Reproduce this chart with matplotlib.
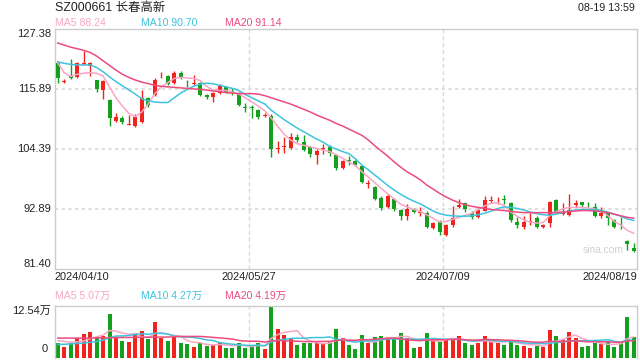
import matplotlib
matplotlib.use("Agg")
import matplotlib.pyplot as plt
import matplotlib.transforms as mtransforms
import numpy as np

plt.rcParams['font.family'] = ['Liberation Sans', 'Noto Sans CJK SC']

# daily OHLC, 2024/04/10 .. 2024/08/19
opens = [120.8, 117.2, 118.4, 118.1, 120.6, 120.2, 117.6, 115.7, 113.8, 109.8,
         110.3, 109.0, 108.8, 109.6, 114.1, 114.7, 118.5, 118.4, 117.1, 119.0,
         117.1, 116.8, 117.1, 114.8, 114.3, 115.2, 116.2, 115.5, 115.1, 112.4,
         112.4, 111.9, 110.8, 110.7, 104.4, 104.8, 104.5, 106.6, 105.7, 104.7,
         103.2, 104.4, 104.8, 103.2, 100.8, 102.3, 102.0, 101.1, 97.6, 97.1,
         95.0, 93.3, 94.8, 92.7, 91.6, 92.8, 92.1, 92.1, 89.2, 90.5,
         88.0, 89.8, 93.2, 94.0, 92.2, 91.4, 92.6, 94.5, 94.4, 94.7,
         94.0, 90.5, 89.4, 90.4, 91.1, 89.5, 90.2, 94.6, 91.9, 91.7,
         93.7, 94.2, 93.9, 93.2, 91.6, 92.1, 90.7, 89.3, 86.8, 85.4]
closes = [117.9, 117.4, 117.9, 120.8, 120.8, 120.8, 115.8, 117.5, 110.3, 110.5,
          109.5, 109.1, 110.6, 114.1, 112.8, 117.7, 118.6, 116.8, 118.9, 118.1,
          117.0, 117.1, 114.7, 114.3, 115.1, 116.5, 115.4, 115.4, 112.8, 112.3,
          112.2, 110.6, 110.9, 104.3, 104.6, 104.9, 106.6, 106.1, 104.2, 103.4,
          104.1, 104.6, 103.7, 100.7, 102.1, 102.1, 101.4, 98.1, 97.8, 94.9,
          93.0, 95.4, 92.8, 91.6, 92.8, 92.4, 92.3, 89.5, 90.2, 88.4,
          89.8, 91.1, 93.7, 92.8, 91.3, 92.7, 94.6, 94.7, 94.5, 94.6,
          90.8, 89.8, 90.5, 90.5, 89.5, 89.8, 94.3, 92.4, 92.4, 92.7,
          94.1, 93.6, 93.8, 91.6, 92.2, 91.1, 89.4, 89.2, 86.2, 84.9]
highs = [121.0, 117.8, 121.6, 121.0, 123.2, 121.0, 117.7, 117.7, 114.0, 111.2,
         110.8, 110.9, 111.1, 115.7, 114.4, 118.0, 119.2, 118.6, 119.3, 119.3,
         117.6, 118.6, 117.3, 115.0, 115.3, 116.8, 116.5, 116.1, 115.3, 113.2,
         112.8, 112.0, 111.3, 111.0, 106.0, 106.6, 107.4, 107.3, 107.1, 105.0,
         104.4, 105.4, 105.1, 103.4, 102.3, 103.1, 102.3, 101.3, 98.5, 97.3,
         95.3, 95.8, 95.0, 92.9, 93.8, 93.0, 93.2, 92.6, 90.5, 90.8,
         90.1, 93.5, 94.8, 94.1, 92.5, 93.0, 95.4, 95.4, 95.2, 95.5,
         94.3, 91.3, 91.5, 92.1, 91.5, 90.0, 94.5, 94.8, 94.1, 95.8,
         94.6, 94.3, 94.3, 94.0, 93.2, 92.3, 90.9, 91.4, 87.0, 86.4]
lows = [117.1, 117.0, 117.8, 117.9, 120.4, 118.4, 115.3, 113.9, 108.8, 109.6,
        109.2, 108.9, 108.7, 109.4, 112.5, 114.5, 117.9, 116.6, 116.9, 117.8,
        116.3, 116.7, 114.5, 114.0, 113.4, 115.0, 115.2, 114.7, 112.6, 111.5,
        110.3, 110.2, 110.5, 102.8, 103.6, 103.7, 104.3, 105.7, 104.0, 102.8,
        101.6, 103.4, 103.0, 100.4, 100.5, 101.3, 101.1, 97.9, 96.9, 94.7,
        92.7, 93.1, 92.6, 90.8, 90.8, 92.1, 91.6, 89.3, 89.0, 87.9,
        87.7, 89.5, 93.0, 92.3, 91.0, 91.2, 92.5, 94.0, 93.8, 93.9,
        90.5, 89.3, 89.0, 89.8, 89.3, 89.3, 89.5, 92.2, 91.8, 91.5,
        93.3, 93.2, 93.2, 91.4, 91.2, 89.8, 89.2, 89.0, 85.0, 84.7]

ma5 = [120.9, 119.0, 118.3, 118.7, 118.9, 119.0, 118.9, 118.4, 116.3, 114.2,
       112.6, 111.2, 110.6, 111.5, 113.1, 115.0, 116.3, 117.1, 117.9, 118.1,
       118.0, 117.9, 117.5, 116.4, 115.7, 115.6, 115.6, 115.3, 114.9, 114.2,
       113.4, 112.6, 111.7, 110.3, 108.7, 107.2, 106.1, 105.4, 105.1, 104.8,
       104.5, 104.2, 103.9, 103.3, 102.6, 101.9, 101.2, 100.0, 99.0, 97.9,
       96.8, 95.8, 94.8, 93.8, 93.3, 92.8, 92.4, 91.8, 91.1, 90.4,
       90.5, 90.9, 91.3, 91.7, 92.1, 92.8, 93.5, 94.0, 94.1, 93.5,
       92.3, 91.5, 90.8, 90.4, 90.2, 90.3, 91.6, 92.4, 92.9, 93.2,
       93.2, 93.2, 93.1, 92.9, 92.5, 91.6, 90.5, 89.8, 88.8, 88.24]
ma10 = [121.1, 120.8, 120.6, 120.5, 120.5, 120.5, 120.0, 119.2, 118.2, 117.3,
        116.5, 115.7, 114.9, 114.0, 113.6, 113.4, 113.3, 113.3, 114.2, 115.1,
        115.8, 116.4, 116.8, 117.0, 116.9, 116.6, 116.3, 116.0, 115.6, 114.8,
        114.2, 113.6, 113.0, 111.8, 110.9, 110.0, 109.2, 108.4, 107.7, 107.0,
        106.3, 105.7, 104.9, 104.4, 103.9, 103.5, 102.5, 101.3, 100.4, 99.4,
        98.4, 97.4, 96.5, 95.7, 95.0, 94.4, 93.9, 93.2, 92.5, 92.0,
        91.7, 91.6, 91.5, 91.5, 91.6, 91.8, 92.1, 92.5, 93.0, 93.3,
        93.2, 93.0, 92.7, 92.3, 92.0, 91.8, 91.7, 91.9, 92.2, 92.5,
        92.7, 92.8, 92.8, 92.8, 92.6, 92.3, 91.9, 91.5, 91.0, 90.70]
ma20 = [124.7, 124.3, 123.9, 123.6, 123.3, 122.9, 122.2, 121.3, 120.4, 119.5,
        118.7, 118.1, 117.6, 117.2, 116.9, 116.6, 116.4, 116.3, 116.2, 116.1,
        116.0, 115.9, 115.8, 115.7, 115.5, 115.4, 115.2, 115.1, 115.0, 115.0,
        115.0, 114.9, 114.6, 114.2, 113.8, 113.4, 113.0, 112.5, 112.0, 111.5,
        110.9, 110.4, 109.9, 109.3, 108.8, 108.2, 107.6, 107.0, 106.1, 105.0,
        104.0, 103.0, 101.9, 100.9, 100.0, 99.3, 98.5, 97.5, 96.7, 95.9,
        95.2, 94.6, 94.1, 93.7, 93.4, 93.2, 93.0, 92.8, 92.7, 92.6,
        92.4, 92.3, 92.2, 92.2, 92.2, 92.2, 92.2, 92.2, 92.3, 92.4,
        92.5, 92.6, 92.6, 92.5, 92.4, 92.2, 91.9, 91.6, 91.3, 91.14]

# volume in 万 shares
volume = [3.6, 2.76, 3.6, 4.77, 5.77, 6.27, 5.18, 5.35, 10.6, 5.0,
          4.0, 3.76, 6.0, 6.5, 4.6, 8.6, 4.85, 4.1, 5.18, 3.6,
          3.34, 2.76, 3.6, 2.9, 3.1, 3.9, 2.34, 2.5, 3.6, 2.5,
          2.9, 3.6, 2.1, 12.54, 7.1, 5.6, 4.6, 3.1, 3.6, 3.6,
          3.6, 3.34, 3.76, 7.0, 4.77, 3.1, 2.26, 5.6, 3.6, 5.0,
          5.27, 5.0, 4.77, 6.1, 4.77, 2.5, 2.76, 6.1, 4.77, 3.9,
          4.4, 4.4, 5.27, 3.6, 3.1, 3.6, 5.27, 3.9, 3.6, 3.1,
          4.4, 3.1, 2.9, 2.5, 2.9, 2.76, 6.86, 5.27, 4.4, 6.27,
          4.77, 2.76, 2.9, 3.6, 3.34, 3.9, 2.76, 3.6, 9.8, 5.0]
vma5 = [4.2, 4.0, 3.8, 3.9, 4.1, 4.63, 5.12, 5.47, 6.63, 6.48,
        6.03, 5.74, 5.87, 5.05, 4.97, 5.89, 6.11, 5.73, 5.47, 5.27,
        4.21, 3.8, 3.7, 3.24, 3.14, 3.25, 3.17, 2.95, 3.09, 2.97,
        2.77, 3.02, 2.94, 4.73, 5.65, 6.19, 6.39, 6.59, 4.8, 4.1,
        3.7, 3.45, 3.58, 4.26, 4.49, 4.39, 4.18, 4.55, 3.87, 3.91,
        4.35, 4.89, 4.73, 5.23, 5.18, 4.63, 4.18, 4.45, 4.18, 4.01,
        4.39, 4.71, 4.55, 4.31, 4.15, 3.99, 4.17, 3.89, 3.89, 3.89,
        4.05, 3.62, 3.42, 3.2, 3.16, 2.83, 3.58, 4.06, 4.44, 5.11,
        5.51, 4.69, 4.22, 4.06, 3.47, 3.3, 3.3, 3.44, 4.68, 5.07]
vma10 = [3.3, 3.3, 3.4, 3.5, 3.6, 3.8, 4.0, 4.3, 4.9, 5.29,
         5.33, 5.43, 5.67, 5.84, 5.73, 5.96, 5.93, 5.8, 5.26, 5.12,
         5.05, 4.96, 4.72, 4.36, 4.21, 3.73, 3.49, 3.33, 3.17, 3.06,
         3.01, 3.1, 2.95, 3.91, 4.31, 4.48, 4.71, 4.77, 4.77, 4.88,
         4.95, 4.92, 5.09, 4.53, 4.3, 4.05, 3.82, 4.07, 4.07, 4.2,
         4.37, 4.54, 4.64, 4.55, 4.55, 4.49, 4.54, 4.59, 4.71, 4.6,
         4.51, 4.45, 4.5, 4.25, 4.08, 4.19, 4.44, 4.22, 4.1, 4.02,
         4.02, 3.9, 3.66, 3.55, 3.53, 3.44, 3.6, 3.74, 3.82, 4.14,
         4.17, 4.14, 4.14, 4.25, 4.29, 4.41, 4.0, 3.83, 4.37, 4.27]
vma20 = [4.8, 4.8, 4.8, 4.8, 4.8, 4.8, 4.85, 4.85, 4.9, 4.9,
         4.95, 4.95, 5.0, 5.0, 5.0, 5.05, 5.05, 5.05, 5.1, 5.2,
         5.19, 5.2, 5.2, 5.1, 4.97, 4.85, 4.71, 4.57, 4.22, 4.09,
         4.03, 4.03, 3.84, 4.14, 4.26, 4.11, 4.1, 4.05, 3.97, 3.97,
         3.98, 4.01, 4.02, 4.22, 4.31, 4.27, 4.27, 4.42, 4.42, 4.54,
         4.66, 4.73, 4.87, 4.54, 4.43, 4.27, 4.18, 4.33, 4.39, 4.4,
         4.44, 4.5, 4.57, 4.4, 4.32, 4.34, 4.49, 4.41, 4.41, 4.31,
         4.27, 4.18, 4.08, 3.9, 3.81, 3.82, 4.02, 3.98, 3.96, 4.08,
         4.1, 4.02, 3.9, 3.9, 3.91, 3.93, 3.8, 3.79, 4.1, 4.19]

price_ticks = [127.38, 115.89, 104.39, 92.89, 81.40]
date_labels = ['2024/04/10', '2024/05/27', '2024/07/09', '2024/08/19']

RED = '#f0241c'
GREEN = '#14a01c'
C_MA5 = '#f9a6c4'
C_MA10 = '#3ec3df'
C_MA20 = '#ec4c7e'
GRID = '#d9d9d9'
FRAME = '#cccccc'
TXT = '#222222'

o = np.array(opens); c = np.array(closes)
h = np.array(highs); l = np.array(lows)
n = len(o)
x = np.arange(n)
up = c >= o
colors = np.where(up, RED, GREEN)

W, H = 640, 360
fig = plt.figure(figsize=(6.4, 3.6), dpi=100)
ax = fig.add_axes([54.5 / W, 1 - 269 / H, 582.5 / W, 240 / H])
axv = fig.add_axes([54.5 / W, 1 - 358 / H, 582.5 / W, 52 / H])

# price panel
for yv in price_ticks[1:-1]:
    ax.axhline(yv, color=GRID, lw=1.2, ls=(0, (2, 2)), zorder=0)
for xv in (29.5, 59.5):
    ax.axvline(xv, color=GRID, lw=1, ls=(0, (3, 2)), zorder=0)
    axv.axvline(xv, color=GRID, lw=1, ls=(0, (3, 2)), zorder=0)

ax.vlines(x, l, h, colors=colors, lw=1, zorder=2)
body_low = np.minimum(o, c)
body_h = np.maximum(np.abs(c - o), 0.12)
ax.bar(x, body_h, bottom=body_low, width=0.62, color=colors, lw=0, zorder=3)

ax.plot(x, ma5, color=C_MA5, lw=1.1, zorder=4)
ax.plot(x, ma10, color=C_MA10, lw=1.1, zorder=4)
ax.plot(x, ma20, color=C_MA20, lw=1.1, zorder=4)

ax.set_xlim(-0.5, n - 0.5)
ax.set_ylim(price_ticks[-1], price_ticks[0])
ax.set_xticks([]); ax.set_yticks([])
for s in ax.spines.values():
    s.set_color(FRAME); s.set_linewidth(1)

trans = mtransforms.blended_transform_factory(ax.transAxes, ax.transData)
for k, yv in enumerate(price_ticks):
    va = 'top' if k == 0 else ('bottom' if k == len(price_ticks) - 1 else 'center')
    ax.text(-0.006, yv, f'{yv:.2f}', transform=trans, ha='right', va=va,
            fontsize=8, color=TXT)

ax.text(0.977, 0.08, 'sina.com', transform=ax.transAxes, ha='right', va='center',
        fontsize=7.4, color='#d0d0d0', zorder=1)

# date labels under price panel
date_pos = [(-0.45, 'left'), (29.5, 'center'), (59.5, 'center'), (n - 0.5, 'right')]
tx = mtransforms.blended_transform_factory(ax.transData, fig.transFigure)
for (xp, ha), lab in zip(date_pos, date_labels):
    ax.text(xp, 1 - 277 / H, lab, transform=tx, ha=ha, va='center',
            fontsize=7.9, color=TXT)

# volume panel
axv.bar(x, volume, width=0.62, color=colors, lw=0, zorder=2)
axv.plot(x, vma5, color=C_MA5, lw=1.1, zorder=3)
axv.plot(x, vma10, color=C_MA10, lw=1.1, zorder=3)
axv.plot(x, vma20, color=C_MA20, lw=1.1, zorder=3)
axv.set_xlim(-0.5, n - 0.5)
axv.set_ylim(0, max(volume))
axv.set_xticks([]); axv.set_yticks([])
for s in axv.spines.values():
    s.set_color(FRAME); s.set_linewidth(1)
axv.spines['bottom'].set_visible(False)
axv.text(-0.006, 1.0, f'{max(volume):.2f}万', transform=axv.transAxes,
         ha='right', va='top', fontsize=8, color=TXT)
axv.text(-0.012, 0.18, '0', transform=axv.transAxes, ha='right', va='center',
         fontsize=8, color=TXT)

# header texts
fig.text(55 / W, 1 - 8 / H, 'SZ000661 长春高新', ha='left', va='center',
         fontsize=8.9, color=TXT)
fig.text(635 / W, 1 - 8 / H, '08-19 13:59', ha='right', va='center',
         fontsize=7.7, color=TXT)

legend_x = [55, 141, 225]
fig.text(legend_x[0] / W, 1 - 23 / H, f'MA5 {ma5[-1]:.2f}', color=C_MA5,
         fontsize=7.6, va='center')
fig.text(legend_x[1] / W, 1 - 23 / H, f'MA10 {ma10[-1]:.2f}', color=C_MA10,
         fontsize=7.6, va='center')
fig.text(legend_x[2] / W, 1 - 23 / H, f'MA20 {ma20[-1]:.2f}', color=C_MA20,
         fontsize=7.6, va='center')

fig.text(legend_x[0] / W, 1 - 296 / H, f'MA5 {vma5[-1]:.2f}万', color=C_MA5,
         fontsize=7.6, va='center')
fig.text(legend_x[1] / W, 1 - 296 / H, f'MA10 {vma10[-1]:.2f}万', color=C_MA10,
         fontsize=7.6, va='center')
fig.text(legend_x[2] / W, 1 - 296 / H, f'MA20 {vma20[-1]:.2f}万', color=C_MA20,
         fontsize=7.6, va='center')

fig.savefig('out.png', dpi=100)
